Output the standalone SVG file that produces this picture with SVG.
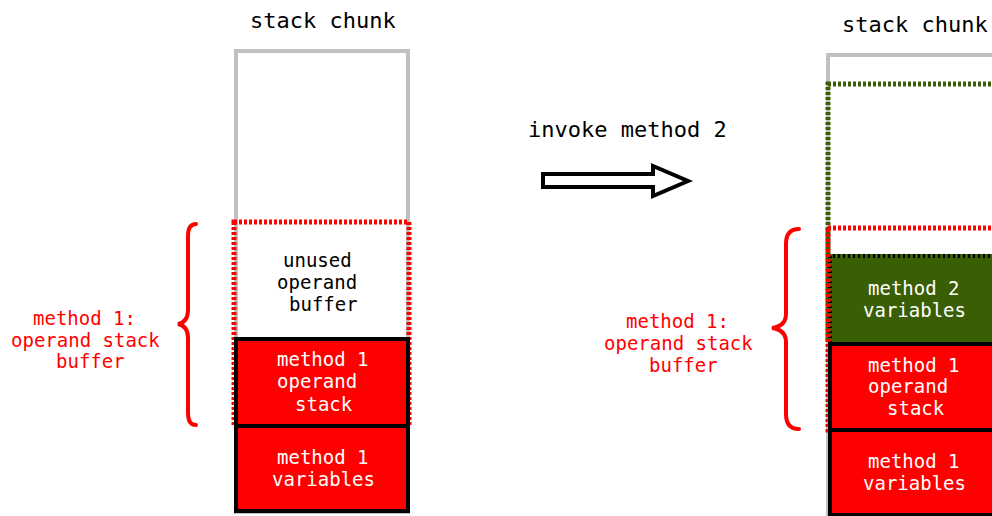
<svg xmlns="http://www.w3.org/2000/svg" width="992" height="516" viewBox="0 0 992 516">
  <style>
    text { font-family: "DejaVu Sans Mono", "Liberation Mono", monospace; }
    .title { font-size: 22px; fill: #000; }
    .lbl { font-size: 19px; fill: #000; }
    .wlbl { font-size: 19px; fill: #fff; }
    .rlbl { font-size: 19px; fill: #ff0000; }
    .chunk { fill: #fff; stroke: #c0c0c0; stroke-width: 4; }
    .dotred { fill: none; stroke: #ff0000; stroke-width: 5; stroke-dasharray: 3 2; }
    .dotgreen { fill: none; stroke: #3a5e03; stroke-width: 5; stroke-dasharray: 3 2; }
    .frame { fill: #ff0000; stroke: #000; stroke-width: 4; }
    .greenframe { fill: #3a5e03; stroke: #3a5e03; stroke-width: 4; }
    .greenedge { fill: none; stroke: #000; stroke-width: 4; stroke-dasharray: 2 3; }
    .brace { fill: none; stroke: #ff0000; stroke-width: 4; stroke-linecap: round; }
    .arrow { fill: #fff; stroke: #000; stroke-width: 4; stroke-linejoin: miter; }
  </style>

  <!-- before the call -->
  <g id="left-chunk">
    <text class="title" x="250" y="28">stack chunk</text>
    <rect class="chunk" x="236" y="51" width="172" height="461"/>
  </g>
  <g id="left-buffer">
    <rect class="dotred" x="234" y="222" width="175" height="204"/>
    <text class="lbl" x="283" y="267">unused</text>
    <text class="lbl" x="277" y="289">operand</text>
    <text class="lbl" x="289" y="311">buffer</text>
  </g>
  <g id="left-operand-stack">
    <rect class="frame" x="236" y="339" width="172" height="87"/>
    <text class="wlbl" x="277" y="366">method 1</text>
    <text class="wlbl" x="277" y="388">operand</text>
    <text class="wlbl" x="295" y="411">stack</text>
  </g>
  <g id="left-variables">
    <rect class="frame" x="236" y="426" width="172" height="85"/>
    <text class="wlbl" x="277" y="464">method 1</text>
    <text class="wlbl" x="272" y="486">variables</text>
  </g>
  <g id="left-brace-label">
    <path class="brace" d="M196,224 Q188,224 188,236 L188,310 Q188,322 178,324 Q188,326 188,338 L188,413 Q188,425 196,425"/>
    <text class="rlbl" x="33" y="325">method 1:</text>
    <text class="rlbl" x="11" y="347">operand stack</text>
    <text class="rlbl" x="56" y="368">buffer</text>
  </g>

  <!-- transition -->
  <g id="invoke">
    <text class="title" x="528" y="137">invoke method 2</text>
    <polygon class="arrow" points="543,174 653,174 653,166 688,181 653,196 653,187 543,187"/>
  </g>

  <!-- after the call -->
  <g id="right-chunk">
    <text class="title" x="842" y="32">stack chunk</text>
    <rect class="chunk" x="828" y="55" width="174" height="460"/>
  </g>
  <g id="right-frame2">
    <rect class="dotgreen" x="828" y="84" width="180" height="258"/>
  </g>
  <g id="right-method2-variables">
    <rect class="greenframe" x="830" y="256" width="172" height="86"/>
    <line class="greenedge" x1="828" y1="256" x2="1002" y2="256"/>
    <line class="greenedge" x1="830" y1="256" x2="830" y2="342"/>
    <text class="wlbl" x="868" y="295">method 2</text>
    <text class="wlbl" x="863" y="317">variables</text>
  </g>
  <g id="right-buffer">
    <rect class="dotred" x="828" y="228" width="180" height="202"/>
  </g>
  <g id="right-operand-stack">
    <rect class="frame" x="830" y="344" width="174" height="86"/>
    <text class="wlbl" x="868" y="372">method 1</text>
    <text class="wlbl" x="868" y="393">operand</text>
    <text class="wlbl" x="887" y="415">stack</text>
  </g>
  <g id="right-variables">
    <rect class="frame" x="830" y="430" width="174" height="85"/>
    <text class="wlbl" x="868" y="468">method 1</text>
    <text class="wlbl" x="863" y="490">variables</text>
  </g>
  <g id="right-brace-label">
    <path class="brace" d="M799,229 Q786,229 786,244 L786,314 Q786,326 772,328 Q786,330 786,342 L786,414 Q786,429 799,429"/>
    <text class="rlbl" x="626" y="328">method 1:</text>
    <text class="rlbl" x="604" y="350">operand stack</text>
    <text class="rlbl" x="649" y="372">buffer</text>
  </g>
</svg>
